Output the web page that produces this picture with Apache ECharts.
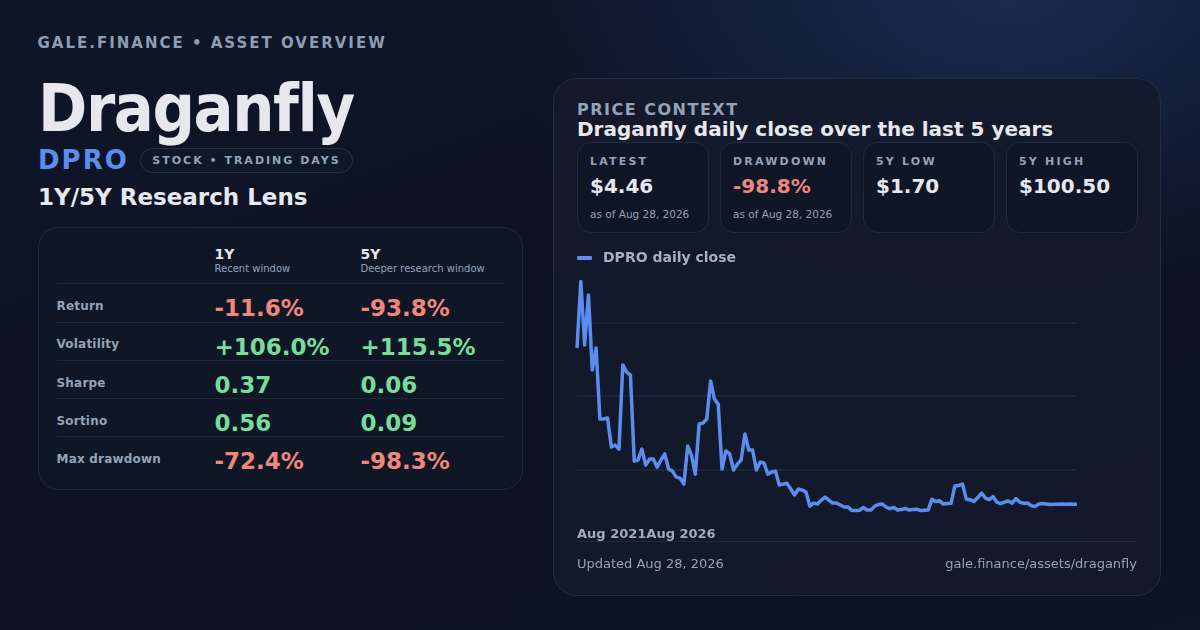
<!DOCTYPE html>
<html>
<head>
<meta charset="utf-8">
<script src="https://cdn.jsdelivr.net/npm/echarts@6.0.0/dist/echarts.min.js"></script>
<style>
  html, body { margin:0; padding:0; }
  body {
    width:1200px; height:630px; overflow:hidden; position:relative;
    font-family:"DejaVu Sans", sans-serif;
    background:
      radial-gradient(ellipse 720px 430px at 1010px -10px, rgba(36,56,108,0.62), rgba(36,56,108,0) 72%),
      linear-gradient(160deg, #0f1628 0%, #0c1221 55%, #0d1426 100%);
  }
  .abs { position:absolute; white-space:nowrap; line-height:1; }
  .muted { color:#94a3b8; }
  .kicker { left:37.5px; top:35.6px; font-size:15px; font-weight:bold; letter-spacing:2px; color:#8f9db4; }
  .h1 { left:38px; top:76px; font-size:66px; font-weight:bold; color:#e6e8ee; letter-spacing:-1.4px;
        font-family:"DejaVu Sans Condensed", "DejaVu Sans", sans-serif; font-stretch:condensed; }
  .ticker { left:38px; top:147.3px; font-size:26px; font-weight:bold; color:#5b8def; letter-spacing:2px; }
  .pill { left:140px; top:148px; width:211px; height:23px; border:1px solid #26324a; border-radius:13px;
          background:rgba(17,26,45,0.6); display:flex; align-items:center; justify-content:center;
          font-size:11px; font-weight:bold; letter-spacing:2px; color:#94a3b8; }
  .lens { left:38px; top:185.5px; font-size:23px; font-weight:bold; color:#e6e8ee; }
  .tcard { left:38px; top:227px; width:483px; height:261px; border:1px solid #1f2a3c; border-radius:20px;
           background:rgba(16,23,39,0.85); }
  .hline { position:absolute; height:1px; background:#1f2a3d; }
  .colh { font-size:14px; font-weight:bold; color:#e6e8ee; }
  .colsub { font-size:10px; color:#94a3b8; }
  .rlabel { font-size:12px; font-weight:bold; color:#94a3b8; letter-spacing:0.2px; }
  .rval { font-size:23px; font-weight:bold; }
  .neg { color:#f0877c; }
  .pos { color:#77dd9a; }
  .panel { left:553px; top:78px; width:606px; height:516px; border:1px solid #222d43; border-radius:24px;
           background:rgba(19,26,43,0.92); }
  .pc { left:577px; top:102.2px; font-size:16px; font-weight:bold; letter-spacing:1.5px; color:#94a3b8; }
  .ptitle { left:577px; top:118.8px; font-size:20px; font-weight:bold; color:#e6e8ee; }
  .box { position:absolute; top:141.7px; width:130px; height:89px; border:1px solid #1f2a3f; border-radius:14px;
         background:rgba(15,22,38,0.75); }
  .box .bl { position:absolute; left:12px; top:13px; font-size:11px; font-weight:bold; letter-spacing:2.2px; color:#94a3b8; line-height:1; white-space:nowrap; }
  .box .bv { position:absolute; left:12px; top:33.7px; font-size:20px; font-weight:bold; color:#e6e8ee; line-height:1; white-space:nowrap; }
  .box .bs { position:absolute; left:12px; top:66.5px; font-size:10.5px; color:#94a3b8; line-height:1; white-space:nowrap; }
  .xl { left:577px; top:527.3px; font-size:13px; font-weight:bold; color:#9eabc0; }
  .foot { top:557.3px; font-size:13px; color:#94a3b8; }
  #chart { position:absolute; left:553px; top:78px; width:608px; height:518px; }
</style>
</head>
<body>
<div class="abs kicker">GALE.FINANCE • ASSET OVERVIEW</div>
<div class="abs h1">Draganfly</div>
<div class="abs ticker">DPRO</div>
<div class="abs pill">STOCK • TRADING DAYS</div>
<div class="abs lens">1Y/5Y Research Lens</div>

<div class="abs tcard"></div>
<div id="table"></div>

<div class="abs panel"></div>
<div class="abs pc">PRICE CONTEXT</div>
<div class="abs ptitle">Draganfly daily close over the last 5 years</div>
<div id="boxes"></div>
<div id="chart"></div>
<div class="abs xl" id="xl"></div>
<div class="hline" style="left:577px; top:541px; width:560px;"></div>
<div class="abs foot muted" style="left:577px;">Updated Aug 28, 2026</div>
<div class="abs foot muted" style="right:63px;">gale.finance/assets/draganfly</div>

<script>
// ---------- data ----------
const seriesName = 'DPRO daily close';
const closes = [
  71.8, 100.5, 73.1, 94.7, 62.3, 71.8, 41.2, 41.2, 41.6, 29.1,
  29.9, 28.2, 64.5, 61.4, 60.1, 23.0, 23.5, 28.2, 21.3, 23.9,
  23.9, 20.4, 23.5, 26.1, 19.6, 18.7, 16.1, 15.7, 13.1, 29.5,
  25.6, 17.4, 39.0, 39.4, 41.2, 57.6, 49.8, 47.6, 19.6, 27.4,
  26.1, 19.2, 21.7, 23.5, 34.7, 27.8, 27.8, 19.2, 22.6, 22.2,
  17.4, 18.3, 18.7, 12.7, 13.1, 13.5, 11.0, 8.4, 11.0, 10.5,
  9.7, 3.6, 4.9, 4.5, 6.2, 7.5, 6.2, 4.9, 4.9, 4.1,
  3.2, 3.2, 1.7, 1.7, 1.8, 3.0, 1.9, 1.9, 3.6, 4.3,
  4.5, 3.2, 2.5, 3.0, 1.9, 2.1, 2.6, 1.9, 2.1, 2.3,
  1.7, 1.8, 1.9, 6.6, 5.6, 5.9, 4.5, 4.7, 4.8, 12.3,
  12.5, 13.1, 6.6, 6.4, 5.6, 7.3, 9.2, 7.1, 6.4, 7.7,
  5.3, 4.7, 5.3, 5.8, 4.9, 6.9, 5.3, 4.8, 5.0, 3.8,
  3.4, 4.5, 4.7, 4.5, 4.3, 4.4, 4.4, 4.5, 4.4, 4.5,
  4.4, 4.46
];
const xTickLabels = ['Aug 2021', 'Aug 2026'];

const statLabels = ['LATEST', 'DRAWDOWN', '5Y LOW', '5Y HIGH'];
const statValues = ['$4.46', '-98.8%', '$1.70', '$100.50'];
const statSubs   = ['as of Aug 28, 2026', 'as of Aug 28, 2026', '', ''];
const statNeg    = [false, true, false, false];

const colHeads = ['1Y', '5Y'];
const colSubs  = ['Recent window', 'Deeper research window'];
const rowLabels = ['Return', 'Volatility', 'Sharpe', 'Sortino', 'Max drawdown'];
const vals1Y = ['-11.6%', '+106.0%', '0.37', '0.56', '-72.4%'];
const vals5Y = ['-93.8%', '+115.5%', '0.06', '0.09', '-98.3%'];

// ---------- categories (one per sampled close) ----------
const start = new Date(Date.UTC(2021, 7, 28));
const end = new Date(Date.UTC(2026, 7, 28));
const dates = closes.map((_, i) => {
  const t = start.getTime() + (end.getTime() - start.getTime()) * i / (closes.length - 1);
  return new Date(t).toISOString().slice(0, 10);
});

// ---------- HTML parts ----------
function el(cls, text, style) {
  const d = document.createElement('div');
  d.className = cls; d.textContent = text; if (style) d.setAttribute('style', style);
  return d;
}
const table = document.getElementById('table');
const colX = [214.5, 360.5];
colHeads.forEach((h, i) => {
  table.appendChild(el('abs colh', h, `left:${colX[i]}px; top:246.5px;`));
  table.appendChild(el('abs colsub', colSubs[i], `left:${colX[i]}px; top:264.2px;`));
});
const rowTop0 = 283.3, rowH = 38.2;
table.appendChild(el('hline', '', `left:57px; top:${rowTop0}px; width:448px;`));
rowLabels.forEach((lab, r) => {
  const top = rowTop0 + r * rowH;
  if (r > 0) table.appendChild(el('hline', '', `left:57px; top:${top}px; width:448px;`));
  table.appendChild(el('abs rlabel', lab, `left:56.5px; top:${top + 16.9}px;`));
  [vals1Y[r], vals5Y[r]].forEach((v, c) => {
    const cls = v.startsWith('-') ? 'neg' : 'pos';
    table.appendChild(el('abs rval ' + cls, v, `left:${colX[c]}px; top:${top + 14}px;`));
  });
});

const boxes = document.getElementById('boxes');
statLabels.forEach((lab, i) => {
  const b = document.createElement('div');
  b.className = 'box'; b.style.left = (577 + i * 143) + 'px';
  b.appendChild(el('bl', lab));
  const v = el('bv', statValues[i]); if (statNeg[i]) v.style.color = '#f0877c';
  b.appendChild(v);
  if (statSubs[i]) b.appendChild(el('bs', statSubs[i]));
  boxes.appendChild(b);
});
document.getElementById('xl').textContent = xTickLabels.join('');

// ---------- chart ----------
const chart = echarts.init(document.getElementById('chart'), null, { renderer: 'canvas' });
const gridColor = '#1f2a3f';
chart.setOption({
  backgroundColor: 'transparent',
  animation: false,
  textStyle: { fontFamily: 'DejaVu Sans' },
  legend: {
    data: [seriesName], left: 24, top: 173, padding: 0, icon: 'roundRect', itemWidth: 15, itemHeight: 4, itemGap: 10,
    textStyle: { color: '#a3b0c5', fontSize: 14, fontWeight: 'bold', fontFamily: 'DejaVu Sans', padding: [0, 0, 0, 6] }
  },
  grid: { left: 24, right: 84, top: 171, bottom: 53, containLabel: false },
  xAxis: {
    type: 'category', data: dates, boundaryGap: false,
    axisLine: { show: false }, axisTick: { show: false }, axisLabel: { show: false }, splitLine: { show: false }
  },
  yAxis: [
    { type: 'value', min: -12.3, max: 114.5, show: false, splitLine: { show: false } },
    { type: 'value', min: 0, max: 4, interval: 1, position: 'left',
      axisLine: { show: false }, axisTick: { show: false }, axisLabel: { show: false },
      splitLine: { show: true, lineStyle: { width: 1.5, color: ['rgba(0,0,0,0)', gridColor, gridColor, gridColor, 'rgba(0,0,0,0)'] } } }
  ],
  series: [{
    name: seriesName, type: 'line', data: closes, yAxisIndex: 0,
    showSymbol: false, symbol: 'none', smooth: false,
    lineStyle: { color: '#5b8def', width: 3.5, join: 'round' },
    itemStyle: { color: '#5b8def' }
  }]
});
</script>
</body>
</html>
